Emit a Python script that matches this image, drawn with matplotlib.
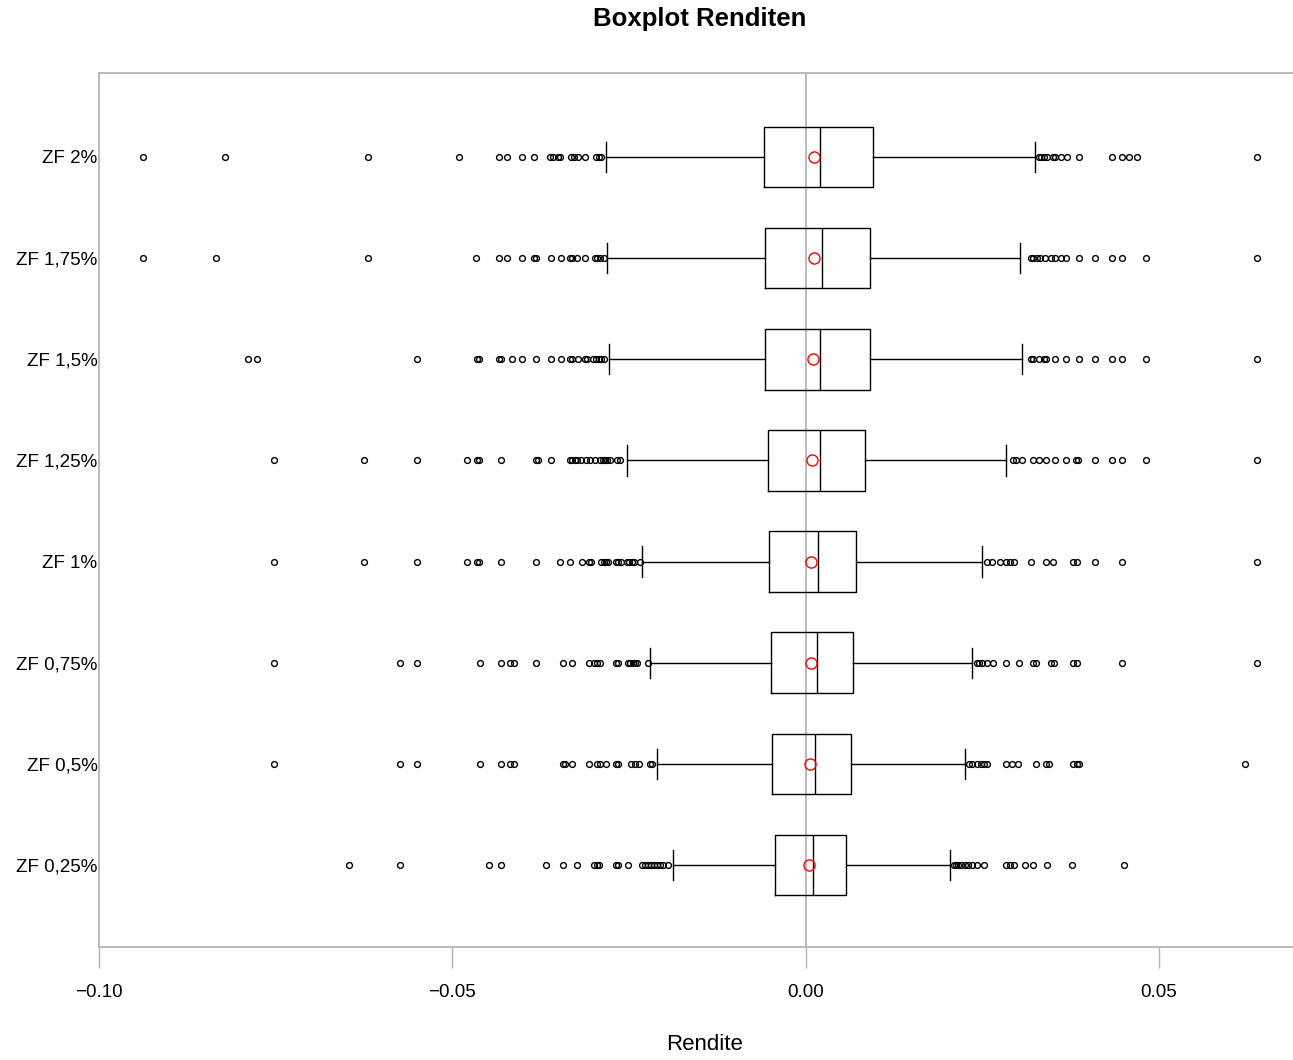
import matplotlib
matplotlib.use("Agg")
import matplotlib.pyplot as plt

plt.rcParams['font.family'] = ['Liberation Sans', 'DejaVu Sans']

# Categories, bottom to top
categories = ["ZF 0,25%", "ZF 0,5%", "ZF 0,75%", "ZF 1%",
              "ZF 1,25%", "ZF 1,5%", "ZF 1,75%", "ZF 2%"]

# Five-number summaries and means of the returns
whislo = [-0.0188, -0.0211, -0.0220, -0.0231, -0.0253, -0.0279, -0.0281, -0.0282]
q1     = [-0.00434, -0.00473, -0.00484, -0.00517, -0.00535, -0.00572, -0.00579, -0.00584]
median = [0.00109, 0.00134, 0.00160, 0.00178, 0.00197, 0.00204, 0.00228, 0.00204]
q3     = [0.00566, 0.00635, 0.00672, 0.00710, 0.00841, 0.00910, 0.00916, 0.00947]
whishi = [0.0204, 0.0226, 0.0235, 0.0250, 0.0283, 0.0306, 0.0303, 0.0325]
means  = [0.00054, 0.00060, 0.00072, 0.00078, 0.00091, 0.00103, 0.00116, 0.00116]

# Outliers per category
out_zf025 = [-0.0646, -0.0574, -0.0448, -0.0431, -0.0368, -0.0343, -0.0323, -0.0299,
             -0.0296, -0.0293, -0.0269, -0.0266, -0.0252, -0.0231, -0.0228, -0.0223,
             -0.0219, -0.0215, -0.0210, -0.0206, -0.0202, -0.0195,
             0.0210, 0.0213, 0.0215, 0.0220, 0.0225, 0.0230, 0.0235, 0.0242, 0.0252,
             0.0283, 0.0289, 0.0295, 0.0310, 0.0321, 0.0342, 0.0377, 0.0450]
out_zf05 = [-0.0752, -0.0574, -0.0550, -0.0461, -0.0431, -0.0418, -0.0413, -0.0344,
            -0.0340, -0.0330, -0.0306, -0.0295, -0.0291, -0.0282, -0.0268, -0.0265,
            -0.0247, -0.0242, -0.0236, -0.0220, -0.0217,
            0.0231, 0.0236, 0.0242, 0.0248, 0.0253, 0.0257, 0.0283, 0.0292, 0.0301,
            0.0326, 0.0340, 0.0345, 0.0378, 0.0384, 0.0387, 0.0622]
out_zf075 = [-0.0752, -0.0574, -0.0550, -0.0461, -0.0431, -0.0418, -0.0413, -0.0382,
             -0.0344, -0.0330, -0.0307, -0.0300, -0.0296, -0.0291, -0.0268, -0.0265,
             -0.0252, -0.0248, -0.0245, -0.0242, -0.0238, -0.0223,
             0.0242, 0.0245, 0.0250, 0.0256, 0.0265, 0.0283, 0.0302, 0.0322, 0.0326,
             0.0347, 0.0352, 0.0378, 0.0384, 0.0447, 0.0639]
out_zf1 = [-0.0752, -0.0625, -0.0550, -0.0479, -0.0465, -0.0462, -0.0431, -0.0382,
           -0.0347, -0.0333, -0.0317, -0.0307, -0.0304, -0.0290, -0.0286, -0.0283,
           -0.0280, -0.0269, -0.0266, -0.0262, -0.0253, -0.0250, -0.0246, -0.0243,
           -0.0235,
           0.0257, 0.0264, 0.0275, 0.0283, 0.0289, 0.0295, 0.0319, 0.0340, 0.0350,
           0.0378, 0.0384, 0.0409, 0.0447, 0.0639]
out_zf125 = [-0.0752, -0.0625, -0.0550, -0.0479, -0.0465, -0.0462, -0.0431, -0.0382,
             -0.0379, -0.0360, -0.0334, -0.0331, -0.0327, -0.0323, -0.0318, -0.0311,
             -0.0305, -0.0298, -0.0291, -0.0287, -0.0284, -0.0281, -0.0277, -0.0267,
             -0.0263,
             0.0294, 0.0298, 0.0306, 0.0321, 0.0330, 0.0340, 0.0353, 0.0369, 0.0383,
             0.0386, 0.0409, 0.0434, 0.0447, 0.0482, 0.0639]
out_zf15 = [-0.0789, -0.0776, -0.0550, -0.0465, -0.0462, -0.0434, -0.0431, -0.0415,
            -0.0401, -0.0382, -0.0360, -0.0346, -0.0333, -0.0330, -0.0322, -0.0312,
            -0.0310, -0.0301, -0.0297, -0.0293, -0.0290, -0.0285,
            0.0319, 0.0322, 0.0330, 0.0337, 0.0340, 0.0353, 0.0369, 0.0387, 0.0409,
            0.0434, 0.0447, 0.0482, 0.0639]
out_zf175 = [-0.0938, -0.0835, -0.0619, -0.0466, -0.0434, -0.0422, -0.0401, -0.0384,
             -0.0382, -0.0360, -0.0346, -0.0334, -0.0331, -0.0323, -0.0312, -0.0298,
             -0.0295, -0.0291, -0.0286,
             0.0319, 0.0322, 0.0327, 0.0332, 0.0339, 0.0347, 0.0353, 0.0361, 0.0369,
             0.0387, 0.0409, 0.0434, 0.0447, 0.0481, 0.0639]
out_zf2 = [-0.0938, -0.0822, -0.0619, -0.0490, -0.0434, -0.0422, -0.0401, -0.0384,
           -0.0362, -0.0357, -0.0351, -0.0347, -0.0332, -0.0328, -0.0322, -0.0312,
           -0.0297, -0.0293, -0.0290,
           0.0330, 0.0333, 0.0337, 0.0342, 0.0350, 0.0353, 0.0361, 0.0370, 0.0387,
           0.0434, 0.0447, 0.0458, 0.0469, 0.0639]
outliers = [out_zf025, out_zf05, out_zf075, out_zf1,
            out_zf125, out_zf15, out_zf175, out_zf2]

x_ticks = [-0.10, -0.05, 0.00, 0.05]
x_tick_labels = ["\u22120.10", "\u22120.05", "0.00", "0.05"]

stats = []
for i, name in enumerate(categories):
    stats.append(dict(label=name, whislo=whislo[i], q1=q1[i], med=median[i],
                      q3=q3[i], whishi=whishi[i], mean=means[i],
                      fliers=outliers[i]))

fig = plt.figure(figsize=(12.93, 10.60), dpi=100)
ax = fig.add_axes([99 / 1293, 1 - 947 / 1060, 1 - 99 / 1293, (947 - 73) / 1060])

grey = "#b4b4b4"
ax.axvline(0, color=grey, lw=1.3, zorder=1)

positions = list(range(1, len(categories) + 1))
line = dict(color="black", linewidth=1.0)
ax.bxp(stats, positions=positions, vert=False, widths=0.6,
       showmeans=True, showfliers=True, patch_artist=False,
       boxprops=line, whiskerprops=line, capprops=line,
       medianprops=dict(color="black", linewidth=1.0),
       meanprops=dict(marker="o", markerfacecolor="none",
                      markeredgecolor="red", markersize=8, markeredgewidth=1.0),
       flierprops=dict(marker="o", markerfacecolor="none",
                       markeredgecolor="black", markersize=4.2,
                       markeredgewidth=1.0))

ax.set_xlim(-0.1, 0.06896)
ax.set_ylim(0.19, 8.83)
ax.set_yticks(positions)
ax.set_yticklabels(categories, fontsize=13.5)
ax.set_xticks(x_ticks)
ax.set_xticklabels(x_tick_labels, fontsize=13.5)

ax.tick_params(axis="y", length=0, pad=1)
ax.tick_params(axis="x", length=15, width=1.0, color=grey, pad=11.5)

for side in ["left", "top", "bottom"]:
    ax.spines[side].set_color(grey)
    ax.spines[side].set_linewidth(1.3)
ax.spines["right"].set_visible(False)

fig.text(705 / 1293, 1 - 1044 / 1060, "Rendite",
         ha="center", va="center", fontsize=16)
fig.text(700 / 1293, 1 - 19 / 1060, "Boxplot Renditen",
         ha="center", va="center", fontsize=18.5, fontweight="bold")

fig.savefig("out.png", dpi=100)
